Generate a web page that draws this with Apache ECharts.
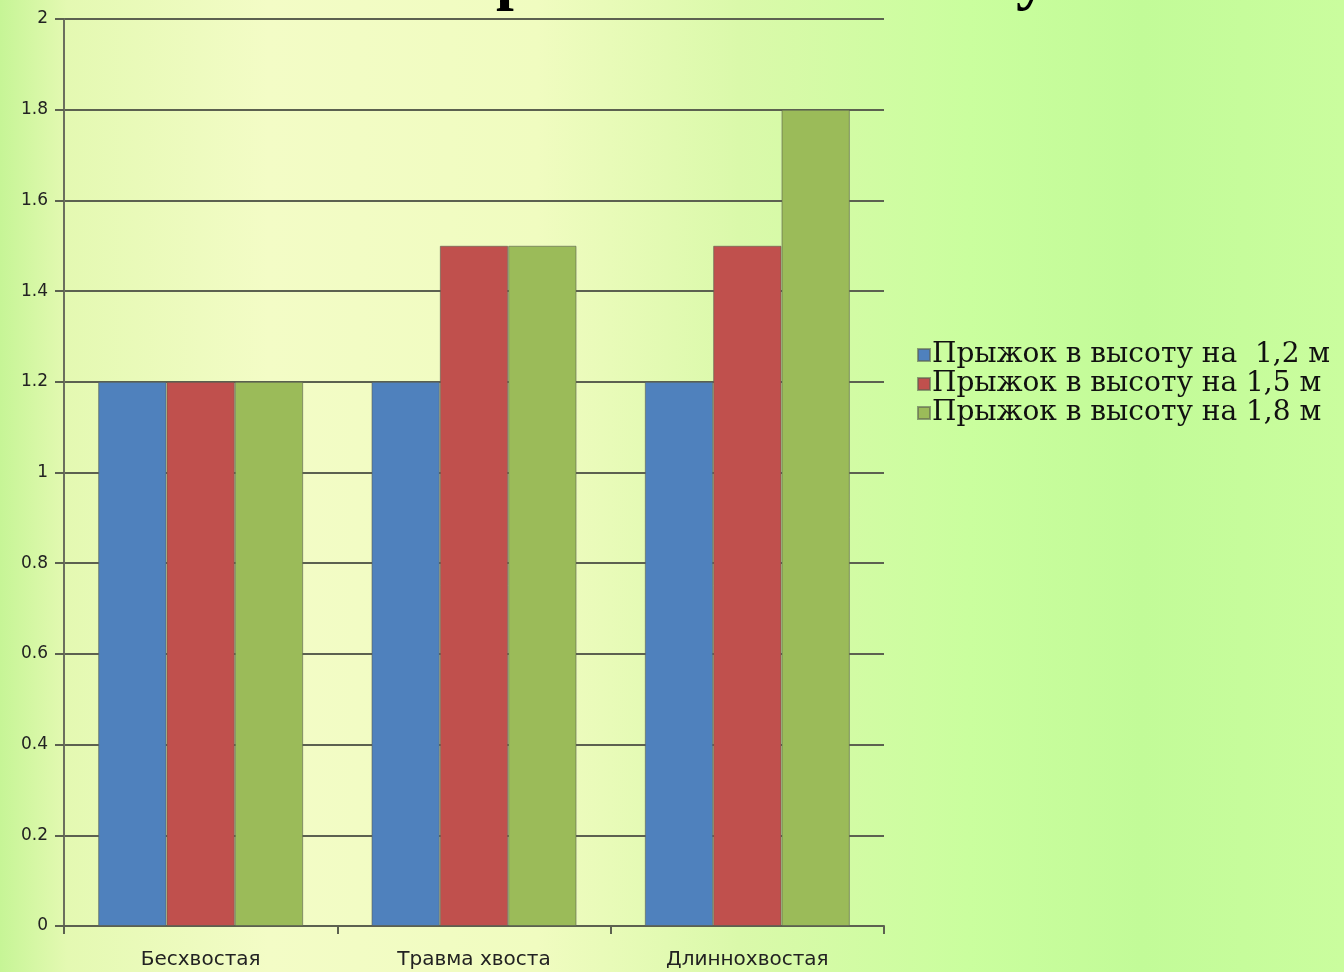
<!DOCTYPE html>
<html><head><meta charset="utf-8">
<script src="https://cdn.jsdelivr.net/npm/echarts@6/dist/echarts.min.js"></script>
<style>html,body{margin:0;padding:0;}#c{width:1344px;height:972px;}</style>
</head><body><div id="c"></div>
<script>
const categories = ['Бесхвостая', 'Травма хвоста', 'Длиннохвостая'];
const seriesNames = ['Прыжок в высоту на  1,2 м', 'Прыжок в высоту на 1,5 м', 'Прыжок в высоту на 1,8 м'];
const jump12 = [1.2, 1.2, 1.2];
const jump15 = [1.2, 1.5, 1.5];
const jump18 = [1.2, 1.5, 1.8];
const colors = ['#4f81bd', '#c0504d', '#9bbb59'];

const chart = echarts.init(document.getElementById('c'));
const seriesData = [jump12, jump15, jump18];
chart.setOption({
  animation: false,
  backgroundColor: {
    type: 'linear', x: 0, y: 0, x2: 1, y2: 0,
    colorStops: [
      {offset: 0, color: '#c6f596'},
      {offset: 0.05, color: '#e4f9b2'},
      {offset: 0.2, color: '#f3fcc6'},
      {offset: 0.4, color: '#f0fcc0'},
      {offset: 0.55, color: '#daf9aa'},
      {offset: 0.72, color: '#cafe9e'},
      {offset: 0.85, color: '#c2fb98'},
      {offset: 1, color: '#cafd9e'}
    ]
  },
  graphic: [
    {type: 'text', left: 496, top: -52, style: {text: 'р', font: 'bold 64px "Liberation Serif"', fill: '#000'}},
    {type: 'text', left: 1016, top: -52, style: {text: 'у', font: 'bold 64px "Liberation Serif"', fill: '#000'}}
  ],
  grid: {left: 64, right: 460, top: 19, bottom: 46, containLabel: false},
  legend: {
    orient: 'vertical', left: 912, top: 336,
    itemWidth: 12, itemHeight: 12, itemGap: 1, icon: 'rect',
    textStyle: {fontFamily: 'DejaVu Serif', fontSize: 28, color: '#111', padding: [0, 0, 0, -3]},
    data: seriesNames
  },
  xAxis: {
    type: 'category', data: categories,
    axisLine: {lineStyle: {color: '#5c6150', width: 2}},
    axisTick: {show: true, length: 8, inside: false, lineStyle: {color: '#5c6150', width: 2}},
    axisLabel: {fontFamily: 'DejaVu Sans', fontSize: 20, color: '#222', margin: 24}
  },
  yAxis: {
    type: 'value', min: 0, max: 2, interval: 0.2,
    axisLine: {show: true, lineStyle: {color: '#6b6f5e', width: 2}},
    axisTick: {show: true, length: 9, lineStyle: {color: '#5c6150', width: 2}},
    splitLine: {lineStyle: {color: '#5c6150', width: 2}},
    axisLabel: {fontFamily: 'DejaVu Sans', fontSize: 17, color: '#222', margin: 16,
      formatter: v => String(Math.round(v * 10) / 10)}
  },
  series: seriesData.map((d, i) => ({
    name: seriesNames[i], type: 'bar', data: d,
    barGap: '0%', barCategoryGap: '25%',
    itemStyle: {color: colors[i], borderColor: 'rgba(90,95,80,0.6)', borderWidth: 1}
  }))
});
</script></body></html>
